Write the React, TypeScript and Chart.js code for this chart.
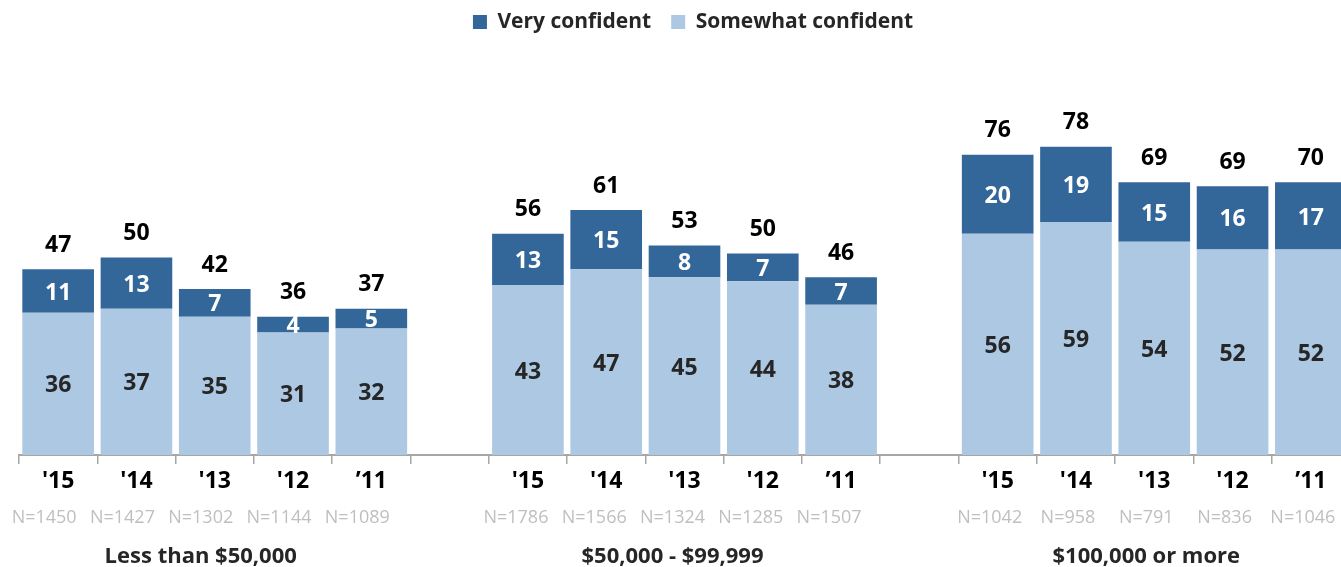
import React, { useEffect, useRef } from 'react';
import { Chart, registerables } from 'chart.js';

Chart.register(...registerables);

// ---- Data ----
const years = ["'15", "'14", "'13", "'12", "’11"];
const groups = ['Less than $50,000', '$50,000 - $99,999', '$100,000 or more'];

const veryLow = [11, 13, 7, 4, 5];
const veryMid = [13, 15, 8, 7, 7];
const veryHigh = [20, 19, 15, 16, 17];

const somewhatLow = [36, 37, 35, 31, 32];
const somewhatMid = [43, 47, 45, 44, 38];
const somewhatHigh = [56, 59, 54, 52, 52];

const totalLow = [47, 50, 42, 36, 37];
const totalMid = [56, 61, 53, 50, 46];
const totalHigh = [76, 78, 69, 69, 70];

const nLow = [1450, 1427, 1302, 1144, 1089];
const nMid = [1786, 1566, 1324, 1285, 1507];
const nHigh = [1042, 958, 791, 836, 1046];

// ---- Helpers: insert one empty slot between groups ----
function withGaps<T>(parts: T[][], gap: T): T[] {
  const out: T[] = [];
  parts.forEach((p, i) => {
    if (i > 0) out.push(gap);
    out.push(...p);
  });
  return out;
}

const labels = withGaps([years, years, years], '');
const veryData = withGaps<number | null>([veryLow, veryMid, veryHigh], null);
const somewhatData = withGaps<number | null>([somewhatLow, somewhatMid, somewhatHigh], null);
const totals = withGaps<number | null>([totalLow, totalMid, totalHigh], null);
const nLabels = withGaps<string>(
  [nLow, nMid, nHigh].map((arr) => arr.map((n) => `N=${n}`)),
  ''
);
const groupOfSlot = withGaps<number>(
  [0, 1, 2].map((g) => years.map(() => g)),
  -1
);
const groupCenters = groups.map((_, g) => g * (years.length + 1) + Math.floor(years.length / 2));

// horizontal nudge of the sub-labels per group (style, not data)
const GROUP_SHIFT = [-14, -12, -8];

const DARK = '#336699';
const LIGHT = '#ADC8E3';
const FONT = '"Open Sans", "Noto Sans", sans-serif';

const labelPlugin = {
  id: 'valueLabels',
  afterDatasetsDraw(chart: any) {
    const ctx = chart.ctx;
    ctx.save();
    ctx.textAlign = 'center';
    ctx.textBaseline = 'middle';
    ctx.font = `bold 23px ${FONT}`;
    chart.data.datasets.forEach((ds: any, di: number) => {
      const meta = chart.getDatasetMeta(di);
      meta.data.forEach((el: any, i: number) => {
        const v = ds.data[i];
        if (v == null) return;
        const { x, y, base } = el.getProps(['x', 'y', 'base'], true);
        ctx.fillStyle = di === 1 ? '#FFFFFF' : '#262626';
        ctx.fillText(String(v), x, (y + base) / 2 + 2);
      });
    });
    const topMeta = chart.getDatasetMeta(1);
    ctx.fillStyle = '#000000';
    totals.forEach((t, i) => {
      if (t == null) return;
      const el = topMeta.data[i];
      ctx.fillText(String(t), el.x, el.y - 24);
    });
    ctx.restore();
  },
  afterDraw(chart: any) {
    const ctx = chart.ctx;
    const xs = chart.scales.x;
    const bottom = chart.chartArea.bottom;
    ctx.save();
    ctx.textAlign = 'center';
    ctx.textBaseline = 'alphabetic';
    ctx.font = `18px ${FONT}`;
    ctx.fillStyle = '#BFBFBF';
    nLabels.forEach((s, i) => {
      if (!s) return;
      const shift = GROUP_SHIFT[groupOfSlot[i]] || 0;
      ctx.fillText(s, xs.getPixelForValue(i) + shift, bottom + 68);
    });
    ctx.font = `bold 22px ${FONT}`;
    ctx.fillStyle = '#262626';
    groups.forEach((g, gi) => {
      ctx.fillText(g, xs.getPixelForValue(groupCenters[gi]) + GROUP_SHIFT[gi], bottom + 108);
    });
    ctx.restore();
  },
};

export default function App() {
  const ref = useRef<HTMLCanvasElement | null>(null);

  useEffect(() => {
    if (!ref.current) return;
    const chart = new Chart(ref.current, {
      type: 'bar',
      data: {
        labels,
        datasets: [
          {
            label: 'Somewhat confident',
            data: somewhatData,
            backgroundColor: LIGHT,
            barPercentage: 0.915,
            categoryPercentage: 1,
          },
          {
            label: 'Very confident',
            data: veryData,
            backgroundColor: DARK,
            barPercentage: 0.915,
            categoryPercentage: 1,
          },
        ],
      },
      options: {
        responsive: false,
        animation: false,
        devicePixelRatio: 1,
        layout: { padding: { left: 19, right: 0, top: -8.5, bottom: 0 } },
        plugins: {
          legend: {
            display: true,
            position: 'top',
            reverse: true,
            labels: {
              boxWidth: 14,
              boxHeight: 14,
              padding: 20,
              color: '#262626',
              font: { family: FONT, size: 21, weight: 'bold' },
            },
          },
          tooltip: { enabled: false },
        },
        scales: {
          x: {
            stacked: true,
            grid: {
              display: true,
              drawOnChartArea: false,
              drawTicks: true,
              tickLength: 9,
              color: '#A6A6A6',
              lineWidth: 1.5,
              offset: true,
            },
            border: { display: true, color: '#A6A6A6', width: 2 },
            ticks: {
              color: '#000000',
              font: { family: FONT, size: 23, weight: 'bold' },
              padding: 4,
              maxRotation: 0,
              autoSkip: false,
            },
            afterFit: (scale: any) => {
              scale.height = 112;
            },
          },
          y: {
            stacked: true,
            position: 'right',
            min: 0,
            max: 104.4,
            display: true,
            grid: { display: false },
            border: { display: false },
            ticks: { display: false },
            afterFit: (scale: any) => {
              scale.width = 17;
            },
          },
        },
      },
      plugins: [labelPlugin],
    });
    return () => chart.destroy();
  }, []);

  return (
    <div
      style={{
        position: 'fixed',
        left: 0,
        top: 0,
        width: 1341,
        height: 567,
        overflow: 'hidden',
        background: '#FFFFFF',
      }}
    >
      <canvas ref={ref} width={1367} height={567} style={{ width: 1367, height: 567, display: 'block' }} />
    </div>
  );
}
